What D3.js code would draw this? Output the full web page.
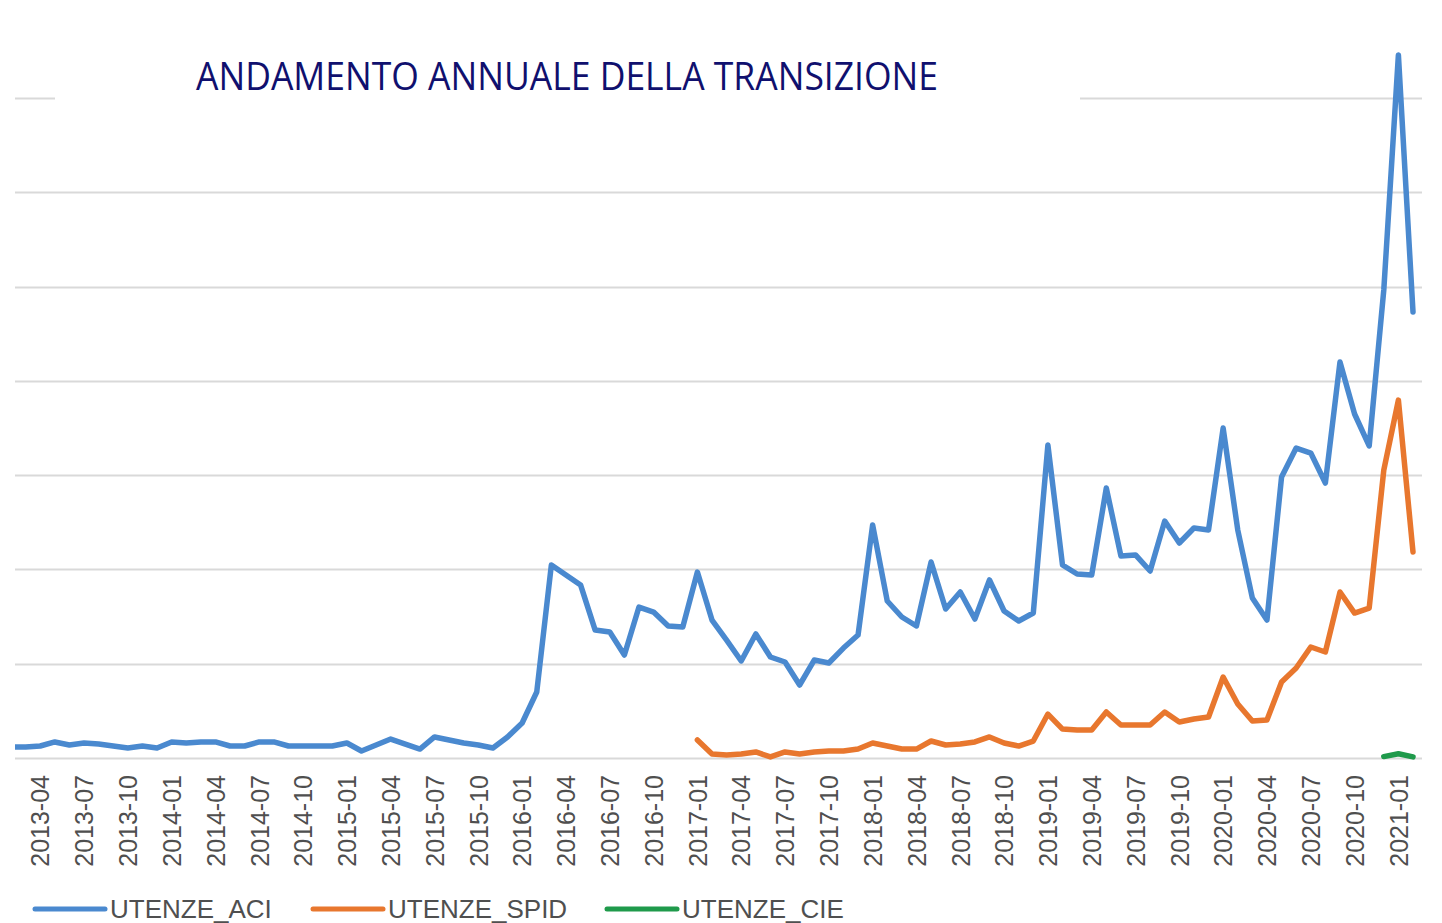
<!DOCTYPE html>
<html>
<head>
<meta charset="utf-8">
<script src="https://cdn.jsdelivr.net/npm/d3@7"></script>
<style>
  body { margin: 0; background: #fff; }
  svg { display: block; }
</style>
</head>
<body>
<svg id="chart" width="1442" height="923"></svg>
<script>
// monthly categories, 2013-02 .. 2021-02
var firstMonth = "2013-02";
var lastMonth = "2021-02";

// users per month (no y labels in the original)
var aciValues = [
  1170, 1170, 1270, 1700, 1380, 1590, 1480, 1270, 1060, 1270,
  1060, 1700, 1590, 1700, 1700, 1270, 1270, 1700, 1700, 1270,
  1270, 1270, 1270, 1590, 740, 1380, 2010, 1480, 950, 2230,
  1910, 1590, 1380, 1060, 2230, 3710, 7000, 20470, 19400, 18350,
  13570, 13360, 10920, 16010, 15480, 14000, 13890, 19720, 14630, 12510,
  10290, 13150, 10710, 10180, 7740, 10390, 10070, 11660, 13040, 24710,
  16650, 14950, 14000, 20780, 15800, 17600, 14740, 18880, 15590, 14530,
  15380, 33190, 20470, 19510, 19410, 28630, 21420, 21530, 19830, 25130,
  22800, 24390, 24180, 34990, 24180, 16970, 14630, 29800, 32870, 32340,
  29160, 41990, 36480, 33090, 49630, 74550, 47300
];

var spidStart = "2017-01";
var spidValues = [
  1910, 420, 320, 420, 640, 110, 640, 420, 640, 740,
  740, 950, 1590, 1270, 950, 950, 1800, 1380, 1480, 1700,
  2230, 1590, 1270, 1800, 4660, 3070, 2970, 2970, 4880, 3500,
  3500, 3500, 4880, 3820, 4130, 4350, 8590, 5720, 3920, 4030,
  8060, 9540, 11770, 11240, 17600, 15370, 15900, 30530, 37950, 21840
];

var cieStart = "2020-12";
var cieValues = [150, 450, 120];

var seriesNames = ["UTENZE_ACI", "UTENZE_SPID", "UTENZE_CIE"];
var seriesColors = ["#4a89cf", "#e8772e", "#1f9a4b"];
var gridTicks = [0, 10000, 20000, 30000, 40000, 50000, 60000, 70000];

var title = "ANDAMENTO ANNUALE DELLA TRANSIZIONE";

var fmt = d3.timeFormat("%Y-%m");
var parse = d3.timeParse("%Y-%m");
var months = d3.timeMonth.range(parse(firstMonth), d3.timeMonth.offset(parse(lastMonth), 1)).map(fmt);

function toPoints(start, values) {
  var i0 = months.indexOf(start);
  return values.map(function(v, i) { return { m: months[i0 + i], v: v }; });
}

var series = [
  toPoints(firstMonth, aciValues),
  toPoints(spidStart, spidValues),
  toPoints(cieStart, cieValues)
];

var svg = d3.select("#chart");

var x = d3.scalePoint().domain(months).range([11, 1413]);
var y = d3.scaleLinear().domain([0, 80000]).range([758, 3.6]);

// plot area clip (chart is cut at the left edge)
svg.append("clipPath").attr("id", "plot-clip")
  .append("rect")
  .attr("x", 15).attr("y", 0).attr("width", 1420).attr("height", 770);

// gridlines
svg.append("g").attr("class", "grid")
  .selectAll("line")
  .data(gridTicks)
  .enter().append("line")
  .attr("x1", 15).attr("x2", 1422)
  .attr("y1", function(d) { return Math.round(y(d)) + 0.5; })
  .attr("y2", function(d) { return Math.round(y(d)) + 0.5; })
  .style("stroke", "#d9d9d9")
  .style("stroke-width", 2);

// title box hides the top gridline
svg.append("rect")
  .attr("x", 55).attr("y", 40).attr("width", 1025).attr("height", 72)
  .style("fill", "#fff");

svg.append("text")
  .attr("x", 196).attr("y", 90)
  .attr("textLength", 742)
  .attr("lengthAdjust", "spacingAndGlyphs")
  .style("font-family", "'Open Sans', sans-serif")
  .style("font-weight", 400)
  .style("font-size", "38px")
  .style("fill", "#10106e")
  .text(title);

// x axis labels, every 3 months starting 2013-04
var xAxis = d3.axisBottom(x)
  .tickValues(months.filter(function(m, i) { return i >= 2 && (i - 2) % 3 === 0; }))
  .tickSize(0)
  .tickPadding(0);

var gx = svg.append("g")
  .attr("transform", "translate(0,758)")
  .call(xAxis);
gx.select(".domain").remove();
gx.selectAll("text")
  .attr("transform", "rotate(-90)")
  .attr("x", -17)
  .attr("y", 0)
  .attr("dy", "0.35em")
  .style("text-anchor", "end")
  .style("font-family", "'Liberation Sans', Arial, sans-serif")
  .style("font-size", "25px")
  .style("fill", "#4f4f4f");

// lines
var line = d3.line()
  .x(function(d) { return x(d.m); })
  .y(function(d) { return y(d.v); });

svg.append("g").attr("class", "lines")
  .attr("clip-path", "url(#plot-clip)")
  .selectAll("path")
  .data(series)
  .enter().append("path")
  .attr("d", line)
  .style("fill", "none")
  .style("stroke", function(d, i) { return seriesColors[i]; })
  .style("stroke-width", 5.5)
  .style("stroke-linejoin", "round")
  .style("stroke-linecap", "round");

// legend
var legendX = [35, 313, 607];
var legend = svg.append("g").attr("class", "legend")
  .selectAll("g")
  .data(seriesNames)
  .enter().append("g")
  .attr("transform", function(d, i) { return "translate(" + legendX[i] + ",909)"; });

legend.append("line")
  .attr("x1", 0).attr("x2", 70)
  .style("stroke", function(d, i) { return seriesColors[i]; })
  .style("stroke-width", 5)
  .style("stroke-linecap", "round");

legend.append("text")
  .attr("x", 75)
  .attr("dy", "0.35em")
  .style("font-family", "'Liberation Sans', Arial, sans-serif")
  .style("font-size", "26px")
  .style("fill", "#4f4f4f")
  .text(function(d) { return d; });
</script>
</body>
</html>
